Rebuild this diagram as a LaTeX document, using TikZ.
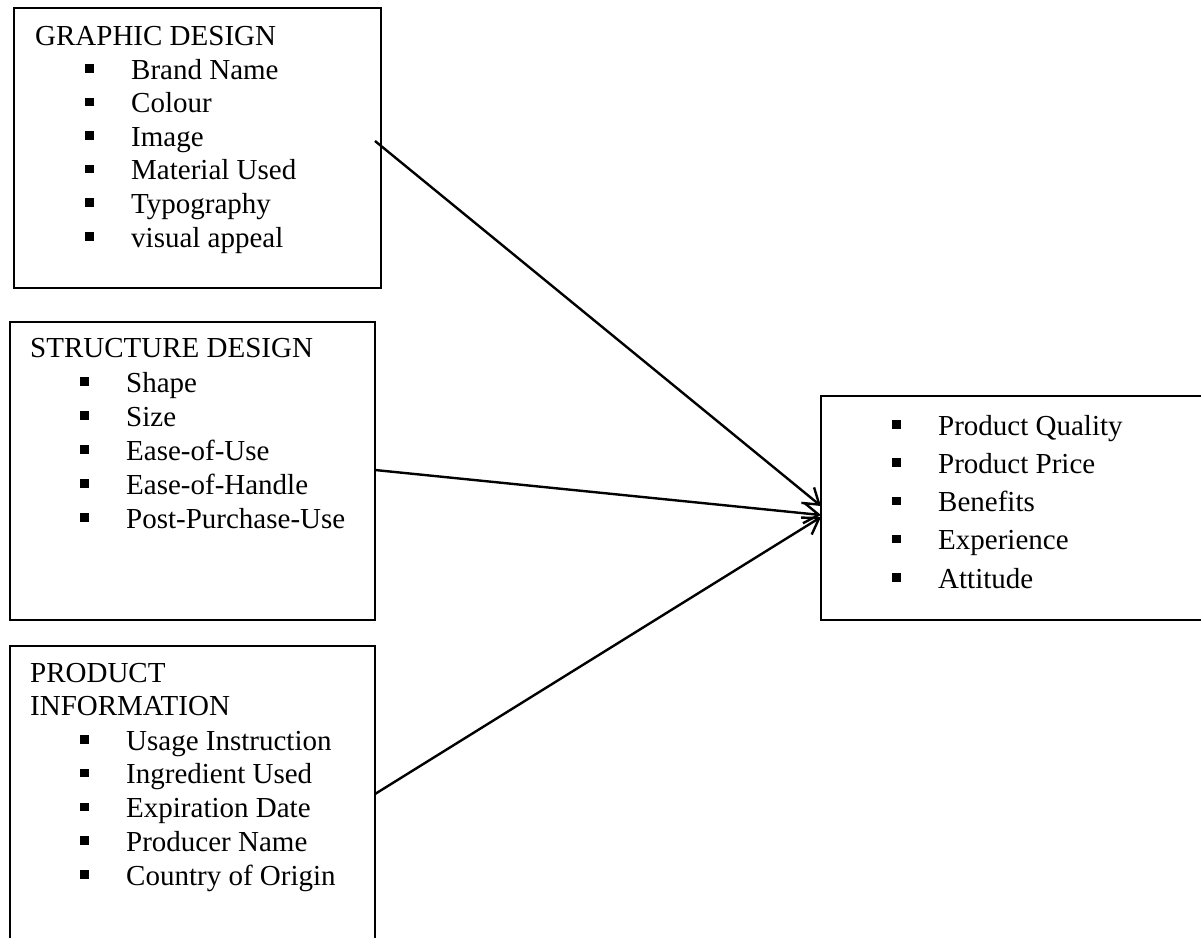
\documentclass[tikz,border=0pt]{standalone}
\usepackage{fontspec}
\setmainfont{Liberation Serif}
\usetikzlibrary{arrows.meta}
\newcommand{\sqbul}{\makebox[46pt][l]{\rule[6.5pt]{8.5pt}{8.5pt}}}
\tikzset{
  box/.style={draw, line width=1.3pt, anchor=north west, inner sep=0pt, outer sep=0pt},
  openbox/.style={line width=1.3pt},
  txt/.style={anchor=base west, inner sep=0pt, font=\fontsize{29}{33}\selectfont},
  arr/.style={-{Straight Barb[length=15pt,width=20pt]}, line width=2.4pt}
}

\begin{document}
\begin{tikzpicture}[x=1pt,y=-1pt]
\useasboundingbox (0,0) rectangle (1201,938);
\node[box, minimum width=367pt, minimum height=280pt](gd) at (14,8) {};
\node[box, minimum width=365pt, minimum height=298pt](sd) at (10,322) {};
\node[box, draw=none, minimum width=365pt, minimum height=292pt](pi) at (10,646) {};
\node[box, draw=none, minimum width=380pt, minimum height=224pt](pq) at (821,396) {};
\draw[openbox] (pi.south west) -- (pi.north west) -- (pi.north east) -- (pi.south east);
\draw[openbox] (pq.north east) -- (pq.north west) -- (pq.south west) -- (pq.south east);
\node[txt](gdt) at (35,45) {GRAPHIC DESIGN};
\foreach \t [count=\i] in {Brand Name, Colour, Image, Material Used, Typography, visual appeal}
{
	\node[txt](gd\i) at (85, 45.4+33.6*\i) {\sqbul\t};
}
\node[txt](sdt) at (30,357) {STRUCTURE DESIGN};
\foreach \t [count=\i] in {Shape, Size, Ease-of-Use, Ease-of-Handle, Post-Purchase-Use}
{
	\node[txt](sd\i) at (80, 358+34*\i) {\sqbul\t};
}
\node[txt](pit) at (30,682) {PRODUCT};
\node[txt](pit2) at (30,715) {INFORMATION};
\foreach \t [count=\i] in {Usage Instruction, Ingredient Used, Expiration Date, Producer Name, Country of Origin}
{
	\node[txt](pi\i) at (80, 716.25+33.75*\i) {\sqbul\t};
}
\foreach \t [count=\i] in {Product Quality, Product Price, Benefits, Experience, Attitude}
{
	\node[txt](pq\i) at (892, 396.75+38.25*\i) {\sqbul\t};
}
\draw[arr] ([xshift=-6pt,yshift=-133pt]gd.north east) -- ([yshift=2pt]pq.west);
\draw[arr] ([yshift=-148pt]sd.north east) -- ([yshift=-7pt]pq.west);
\draw[arr] ([yshift=-148pt]pi.north east) -- ([yshift=-9pt]pq.west);
\end{tikzpicture}
\end{document}
